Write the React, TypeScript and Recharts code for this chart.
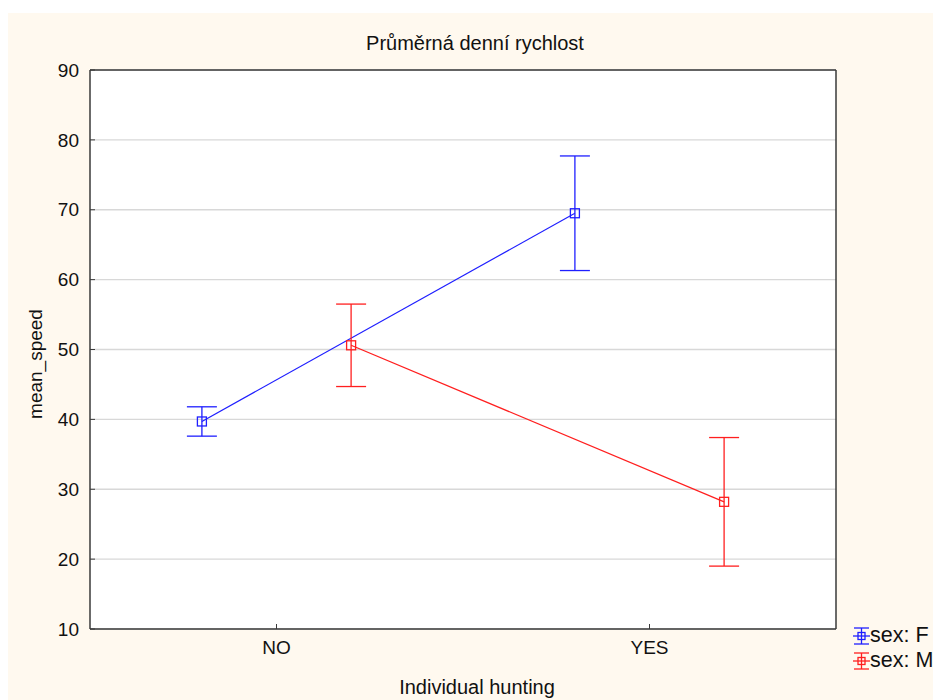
import { LineChart, Line, XAxis, YAxis, CartesianGrid, ErrorBar, Legend } from "recharts";

const categories = ["NO", "YES"];
const femaleMeans = [39.7, 69.5];
const femaleErrors = [2.1, 8.2];
const maleMeans = [50.6, 28.2];
const maleErrors = [5.9, 9.2];
const yTicks = [10, 20, 30, 40, 50, 60, 70, 80, 90];
const seriesNames = ["sex: F", "sex: M"];

const BLUE = "#1f1fff";
const RED = "#ff1f1f";
const FONT = "'Liberation Sans', Arial, sans-serif";
const TEXT = "#111";
const AXIS = "#3a3a3a";

// each category sits at 1, 3 on a 0..4 axis, groups shifted left/right of it
const SHIFT = 0.4;
const catPos = (i: number) => i * 2 + 1;
const catTicks = categories.map((_, i) => catPos(i));

const femaleData = categories.map((c, i) => ({ x: catPos(i) - SHIFT, value: femaleMeans[i], err: femaleErrors[i] }));
const maleData = categories.map((c, i) => ({ x: catPos(i) + SHIFT, value: maleMeans[i], err: maleErrors[i] }));

const squareDot = (color: string) => (props: any) => {
  const { cx, cy, index } = props;
  if (cx == null || cy == null) return <g key={`d-${index}`} />;
  return (
    <rect key={`d-${color}-${index}`} x={cx - 4.5} y={cy - 4.5} width={9} height={9} fill="none" stroke={color} strokeWidth={1.3} />
  );
};

const LegendIcon = ({ color }: { color: string }) => (
  <svg width={17} height={22} style={{ display: "block" }}>
    <line x1={1} y1={3} x2={16} y2={3} stroke={color} strokeWidth={1.3} />
    <line x1={1} y1={19} x2={16} y2={19} stroke={color} strokeWidth={1.3} />
    <line x1={8.5} y1={3} x2={8.5} y2={19} stroke={color} strokeWidth={1.3} />
    <line x1={0} y1={11} x2={17} y2={11} stroke={color} strokeWidth={1.3} />
    <rect x={5} y={7.5} width={7} height={7} fill="none" stroke={color} strokeWidth={1.3} />
  </svg>
);

const renderLegend = () => (
  <div style={{ fontFamily: FONT, fontSize: 21.5, color: TEXT }}>
    {seriesNames.map((name, i) => (
      <div key={name} style={{ display: "flex", alignItems: "center", height: 25, whiteSpace: "nowrap" }}>
        <LegendIcon color={i === 0 ? BLUE : RED} />
        <span>{name}</span>
      </div>
    ))}
  </div>
);

const YLabel = () => (
  <text x={34} y={351} transform="rotate(-90 34 351)" textAnchor="middle" fontFamily={FONT} fontSize={19} fill={TEXT}>
    mean_speed
  </text>
);

const XLabel = () => (
  <text x={469} y={681} textAnchor="middle" fontFamily={FONT} fontSize={20} fill={TEXT}>
    Individual hunting
  </text>
);

export default function App() {
  return (
    <div style={{ position: "absolute", left: 0, top: 0, width: 933, height: 700, overflow: "hidden", background: "#fff" }}>
      <div style={{ position: "absolute", left: 8, top: 13, width: 925, height: 687, background: "#fff9ef", overflow: "hidden" }}>
        <div
          style={{
            position: "absolute",
            left: 0,
            width: 934,
            top: 19,
            textAlign: "center",
            fontFamily: FONT,
            fontSize: 20,
            color: TEXT,
          }}
        >
          Průměrná denní rychlost
        </div>
        <LineChart width={925} height={687} margin={{ top: 56, right: 96, left: 0, bottom: 0 }}>
          <CartesianGrid vertical={false} stroke="#d8d8d8" strokeWidth={1.3} fill="#fff" />
          <XAxis
            xAxisId={0}
            type="number"
            dataKey="x"
            domain={[0, 4]}
            ticks={catTicks}
            tickFormatter={(v: number) => categories[(v - 1) / 2] ?? ""}
            height={71}
            tickSize={-5}
            tickMargin={17}
            axisLine={{ stroke: AXIS, strokeWidth: 1.5 }}
            tickLine={{ stroke: AXIS }}
            tick={{ fill: TEXT, fontFamily: FONT, fontSize: 19 }}
            label={<XLabel />}
          />
          <XAxis
            xAxisId="top"
            orientation="top"
            type="number"
            domain={[0, 4]}
            ticks={catTicks}
            tickFormatter={() => ""}
            height={1}
            tickSize={-5}
            axisLine={{ stroke: AXIS, strokeWidth: 1.5 }}
            tickLine={{ stroke: AXIS }}
          />
          <YAxis
            yAxisId={0}
            type="number"
            domain={[10, 90]}
            ticks={yTicks}
            width={82}
            tickSize={-5}
            tickMargin={16}
            axisLine={{ stroke: AXIS, strokeWidth: 1.5 }}
            tickLine={{ stroke: AXIS }}
            tick={{ fill: TEXT, fontFamily: FONT, fontSize: 19 }}
            label={<YLabel />}
          />
          <YAxis
            yAxisId="right"
            orientation="right"
            type="number"
            domain={[10, 90]}
            ticks={yTicks}
            width={1}
            tickLine={false}
            tickFormatter={() => ""}
            axisLine={{ stroke: AXIS, strokeWidth: 1.5 }}
          />
          <Line
            data={femaleData}
            dataKey="value"
            name={seriesNames[0]}
            stroke={BLUE}
            strokeWidth={1.2}
            dot={squareDot(BLUE)}
            activeDot={false}
            isAnimationActive={false}
          >
            <ErrorBar dataKey="err" direction="y" width={15} stroke={BLUE} strokeWidth={1.3} />
          </Line>
          <Line
            data={maleData}
            dataKey="value"
            name={seriesNames[1]}
            stroke={RED}
            strokeWidth={1.2}
            dot={squareDot(RED)}
            activeDot={false}
            isAnimationActive={false}
          >
            <ErrorBar dataKey="err" direction="y" width={15} stroke={RED} strokeWidth={1.3} />
          </Line>
          <Legend
            content={renderLegend}
            layout="vertical"
            align="center"
            verticalAlign="middle"
            wrapperStyle={{ left: 845, top: 610, width: 100, bottom: "auto", right: "auto" }}
          />
        </LineChart>
      </div>
    </div>
  );
}
